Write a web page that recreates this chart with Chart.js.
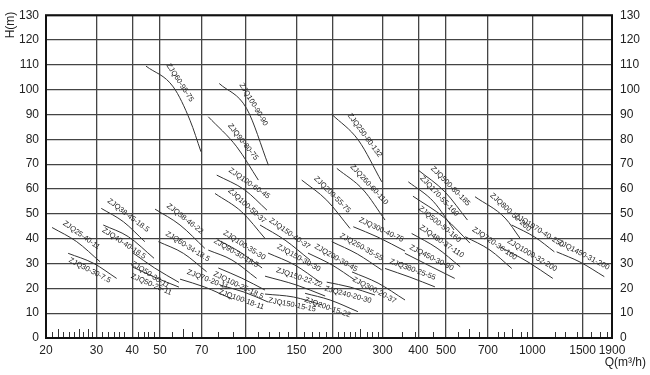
<!DOCTYPE html>
<html>
<head>
<meta charset="utf-8">
<script src="https://cdn.jsdelivr.net/npm/chart.js@4"></script>
<style>
  html, body { margin: 0; padding: 0; background: #fff; }
  #wrap { width: 650px; height: 375px; }
</style>
</head>
<body>
<div id="wrap"><canvas id="chart" width="650" height="375"></canvas></div>
<script>
// ---- data ----
const xTicks = [20, 30, 40, 50, 70, 100, 150, 200, 300, 400, 500, 700, 1000, 1500, 1900];
const yMin = 0, yMax = 130, yStep = 10;

const curveNames = [
  'ZJQ25-40-11', 'ZJQ30-30-7.5', 'ZJQ38-45-18.5', 'ZJQ40-40-18.5', 'ZJQ50-30-11', 'ZJQ50-25-11',
  'ZJQ38-46-22', 'ZJQ60-34-18.5', 'ZJQ70-20-11', 'ZJQ60-95-75', 'ZJQ100-90-90', 'ZJQ90-80-75',
  'ZJQ100-60-45', 'ZJQ100-50-37', 'ZJQ150-40-37', 'ZJQ100-35-30', 'ZJQ90-30-18.5', 'ZJQ100-25-18.5',
  'ZJQ100-18-11', 'ZJQ150-30-30', 'ZJQ150-22-22', 'ZJQ150-15-15', 'ZJQ200-55-75', 'ZJQ250-80-132',
  'ZJQ260-60-110', 'ZJQ200-30-45', 'ZJQ250-35-55', 'ZJQ300-40-75', 'ZJQ380-25-55', 'ZJQ300-20-37',
  'ZJQ240-20-30', 'ZJQ200-15-22', 'ZJQ500-80-185', 'ZJQ170-55-160', 'ZJQ500-50-160', 'ZJQ480-37-110',
  'ZJQ450-30-90', 'ZJQ800-50-250', 'ZJQ1070-40-250', 'ZJQ1450-31-200', 'ZJQ720-36-160', 'ZJQ1000-32-200'
];

// flow Q (m3/h) along each curve
const curveQ = [
  [21, 25.6, 30.9], [23.9, 29.3, 35.3], [31.2, 37.3, 44.3], [31.7, 38.8, 47.7], [40, 47.9, 58.3], [40, 47.9, 58.3],
  [48.1, 58.8, 71.8], [49.4, 60.4, 72.8], [58.8, 71.8, 89.3], [44.7, 55.7, 63.7, 69.6], [80.6, 100.5, 119.7], [73.8, 92.8, 110.4],
  [79, 99, 118.3], [77.9, 96.6, 116.5], [111.9, 136.9, 167.3], [80, 95.3, 113.8], [73.8, 89.3, 108.9], [80, 96.7, 116.5],
  [81.1, 98.4, 119.4], [119.4, 148, 181.4], [116.5, 150.4, 189], [116.5, 146.6, 184.5], [156.5, 191.4, 230.9], [199.3, 246.8, 298],
  [207.6, 257, 306], [164.6, 199.8, 240.4], [199.3, 245, 298], [237, 289, 359.4], [306, 374, 457], [234.6, 289.3, 359.4],
  [191.4, 231, 282], [160.8, 196.6, 246], [399.8, 495, 594], [369, 452, 533], [383, 495, 606], [379, 465, 560],
  [359, 432, 536], [631, 804, 906], [848, 1022, 1195], [1217, 1468, 1786], [583, 712, 848], [772, 967, 1180]
];

// head H (m) along each curve
const curveH = [
  [44.5, 38.8, 30.7], [34.1, 30.1, 24.0], [52.2, 46.8, 38.8], [45.5, 40.8, 32.1], [34.5, 28.2, 22.4], [28.7, 24.5, 20.5],
  [51.9, 45.5, 36.1], [38.8, 34.1, 26.7], [23.7, 20.5, 15.7], [109.5, 101.1, 87.7, 75.0], [102.5, 92.4, 69.6], [89.1, 77.0, 63.6],
  [65.6, 59.6, 51.5], [58.2, 50.8, 40.1], [45.5, 39.4, 31.4], [39.4, 34.6, 28.2], [35.4, 31.4, 24.0], [28.2, 24.1, 19.3],
  [21.3, 18.5, 14.5], [34.2, 29.4, 22.5], [24.9, 21.3, 16.9], [17.7, 16.5, 13.3], [63.6, 55.5, 44.1], [90.1, 79.7, 62.9],
  [68.3, 59.6, 47.5], [34.2, 29.4, 23.3], [38.8, 33.8, 27.4], [44.8, 40.6, 35.0], [28.0, 24.5, 20.6], [26.6, 22.1, 15.3],
  [22.5, 20.5, 17.3], [18.0, 15.3, 10.6], [67.6, 58.9, 47.5], [62.9, 54.9, 43.5], [57.1, 48.3, 38.2], [42.1, 36.2, 28.7],
  [34.1, 29.4, 24.0], [56.9, 48.3, 40.2], [45.5, 40.6, 34.7], [34.7, 30.6, 24.7], [40.8, 35.4, 28.0], [36.7, 30.6, 24.0]
];

// small marks along the Q axis
const minorTicks = [21, 22, 23, 24, 25, 26, 27, 28, 29, 31.5, 33, 34.5, 36, 37.5, 42, 44, 45.5, 47.5,
  55, 60, 65, 80, 90, 110, 120, 130, 140, 160, 170, 180, 190, 210, 220, 230, 240, 250, 265, 275, 290,
  350, 390, 450, 550, 600, 650, 760, 800, 850, 910, 960, 1200, 1300, 1430, 1600, 1720, 1820];
const tallTicks = [22, 26, 28, 60, 250, 600, 850];

// labels that sit under their curve
const labelBelow = ['ZJQ30-30-7.5', 'ZJQ40-40-18.5', 'ZJQ50-30-11', 'ZJQ50-25-11', 'ZJQ100-25-18.5',
  'ZJQ100-18-11', 'ZJQ150-15-15', 'ZJQ300-20-37', 'ZJQ240-20-30', 'ZJQ200-15-22', 'ZJQ500-50-160'];

const FONT = '"Liberation Sans", Arial, sans-serif';

const datasets = curveNames.map((name, i) => ({
  label: name,
  data: curveQ[i].map((q, j) => ({ x: q, y: curveH[i][j] })),
  borderColor: '#333',
  borderWidth: 1,
  pointRadius: 0,
  fill: false,
  cubicInterpolationMode: 'monotone'
}));

// curve labels, minor ticks, frame and axis titles
const decorations = {
  id: 'decorations',
  afterDatasetsDraw(chart) {
    const { ctx, chartArea: a, scales: { x, y } } = chart;
    ctx.save();
    ctx.font = '7.5px ' + FONT;
    ctx.fillStyle = '#222';
    ctx.textAlign = 'center';
    ctx.textBaseline = 'middle';
    chart.data.datasets.forEach(ds => {
      const pts = ds.data.map(p => ({ px: x.getPixelForValue(p.x), py: y.getPixelForValue(p.y) }));
      const s = pts[0], e = pts[pts.length - 1], m = pts[Math.floor((pts.length - 1) / 2)];
      let dx = e.px - s.px, dy = e.py - s.py;
      const len = Math.hypot(dx, dy); dx /= len; dy /= len;
      const side = labelBelow.includes(ds.label) ? -1 : 1;
      const off = 8;
      ctx.save();
      ctx.translate(m.px + side * dy * off, m.py - side * dx * off);
      ctx.rotate(Math.atan2(dy, dx));
      ctx.fillText(ds.label, 0, 0);
      ctx.restore();
    });

    // minor ticks
    ctx.strokeStyle = '#333';
    ctx.lineWidth = 1;
    minorTicks.forEach(v => {
      const px = Math.round(x.getPixelForValue(v)) + 0.5;
      const h = tallTicks.includes(v) ? 9 : 6;
      ctx.beginPath(); ctx.moveTo(px, a.bottom); ctx.lineTo(px, a.bottom - h); ctx.stroke();
    });

    // frame
    ctx.strokeStyle = '#111';
    ctx.lineWidth = 2;
    ctx.strokeRect(a.left, a.top, a.right - a.left, a.bottom - a.top);

    // axis titles
    ctx.fillStyle = '#222';
    ctx.font = '12px ' + FONT;
    ctx.textAlign = 'right';
    ctx.fillText('Q(m³/h)', 646, 363);
    ctx.translate(11, 25);
    ctx.rotate(-Math.PI / 2);
    ctx.textAlign = 'center';
    ctx.fillText('H(m)', 0, 0);
    ctx.restore();
  }
};

const tickFont = { family: FONT, size: 12 };
const gridStyle = { color: '#444', lineWidth: 1.3, drawTicks: false };

new Chart(document.getElementById('chart'), {
  type: 'line',
  data: { datasets },
  options: {
    responsive: false,
    animation: false,
    layout: { padding: { top: 15, right: 0, bottom: 0, left: 0 } },
    plugins: { legend: { display: false }, tooltip: { enabled: false } },
    scales: {
      x: {
        type: 'logarithmic',
        min: xTicks[0], max: xTicks[xTicks.length - 1],
        afterBuildTicks: s => { s.ticks = xTicks.map(v => ({ value: v })); },
        afterFit: s => { s.height = 37; },
        ticks: { autoSkip: false, maxRotation: 0, padding: 5, color: '#222', font: tickFont, callback: v => String(v) },
        grid: gridStyle,
        border: { display: false }
      },
      y: {
        position: 'left',
        min: yMin, max: yMax,
        afterFit: s => { s.width = 46; },
        ticks: { stepSize: yStep, padding: 7, color: '#222', font: tickFont },
        grid: gridStyle,
        border: { display: false }
      },
      y2: {
        position: 'right',
        min: yMin, max: yMax,
        afterFit: s => { s.width = 38; },
        ticks: { stepSize: yStep, padding: 8, color: '#222', font: tickFont },
        grid: { display: false, drawTicks: false },
        border: { display: false }
      }
    }
  },
  plugins: [decorations]
});
</script>
</body>
</html>
